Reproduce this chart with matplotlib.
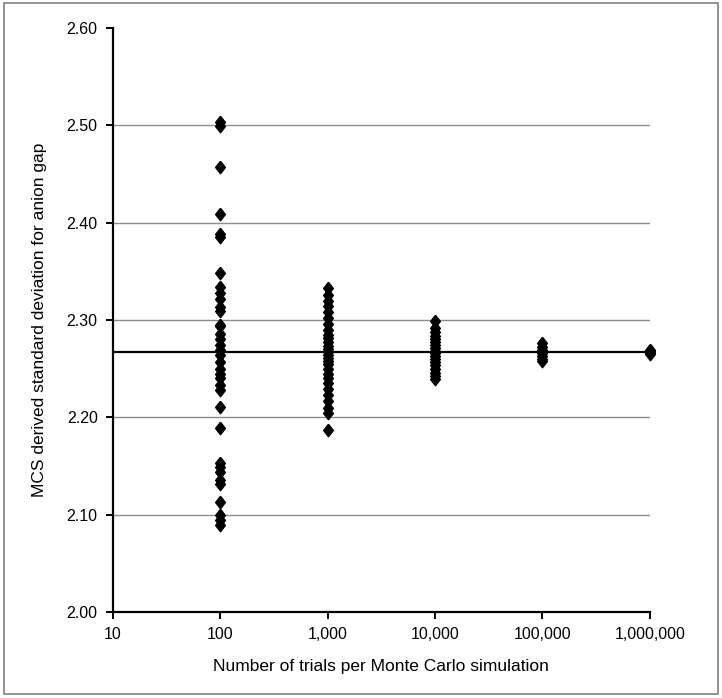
import matplotlib
matplotlib.use("Agg")
import matplotlib.pyplot as plt
from matplotlib.patches import Rectangle
from matplotlib.ticker import FuncFormatter, FixedLocator, NullLocator

plt.rcParams['font.family'] = ['Liberation Sans Narrow', 'Liberation Sans', 'DejaVu Sans']

trials = [100, 1000, 10000, 100000, 1000000]
sd_100 = [2.503, 2.499, 2.457, 2.409, 2.388, 2.385, 2.348, 2.334, 2.328, 2.322,
          2.313, 2.309, 2.295, 2.294, 2.286, 2.280, 2.274, 2.269, 2.264, 2.257,
          2.250, 2.245, 2.240, 2.233, 2.228, 2.211, 2.189, 2.153, 2.149, 2.144,
          2.136, 2.132, 2.113, 2.100, 2.095, 2.089]
sd_1000 = [2.333, 2.326, 2.320, 2.314, 2.308, 2.302, 2.296, 2.290, 2.285, 2.281,
           2.277, 2.273, 2.270, 2.267, 2.264, 2.261, 2.258, 2.255, 2.250, 2.245,
           2.240, 2.235, 2.229, 2.223, 2.217, 2.210, 2.204, 2.187]
sd_10000 = [2.299, 2.292, 2.288, 2.284, 2.280, 2.277, 2.274, 2.271, 2.268, 2.266,
            2.263, 2.260, 2.257, 2.254, 2.250, 2.246, 2.242, 2.239]
sd_100000 = [2.276, 2.272, 2.269, 2.266, 2.263, 2.260, 2.258]
sd_1000000 = [2.269, 2.268, 2.267, 2.266, 2.265]
true_sd = 2.267

series = [sd_100, sd_1000, sd_10000, sd_100000, sd_1000000]

fig = plt.figure(figsize=(7.22, 6.98), dpi=100)
ax = fig.add_axes([0.1565, 0.1232, 0.7435, 0.8367])

for gy in [2.1, 2.2, 2.3, 2.4, 2.5]:
    ax.axhline(gy, color="#8c8c8c", lw=1.0, zorder=1)
ax.axhline(true_sd, color="black", lw=1.6, zorder=2)

# slightly tall diamond like the spreadsheet marker
diamond = [(0, 1.15), (0.9, 0), (0, -1.15), (-0.9, 0), (0, 1.15)]
for n, vals in zip(trials, series):
    ax.plot([n] * len(vals), vals, linestyle="none", marker=diamond, ms=9,
            color="black", zorder=3, clip_on=False)

ax.set_xscale("log")
ax.set_xlim(10, 1000000)
ax.set_ylim(2.0, 2.6)
ax.xaxis.set_major_locator(FixedLocator([10, 100, 1000, 10000, 100000, 1000000]))
ax.xaxis.set_minor_locator(NullLocator())
ax.xaxis.set_major_formatter(FuncFormatter(lambda v, p: f"{int(round(v)):,}"))
ax.set_yticks([2.0, 2.1, 2.2, 2.3, 2.4, 2.5, 2.6])
ax.yaxis.set_major_formatter(FuncFormatter(lambda v, p: f"{v:.2f}"))

ax.spines["top"].set_visible(False)
ax.spines["right"].set_visible(False)
ax.spines["left"].set_linewidth(1.6)
ax.spines["bottom"].set_linewidth(1.6)
ax.tick_params(axis="both", direction="out", length=5, width=1.4, labelsize=11.5, pad=6)

ax.set_xlabel("Number of trials per Monte Carlo simulation", fontsize=12.5, labelpad=12)
ax.set_ylabel("MCS derived standard deviation for anion gap", fontsize=12.5, labelpad=14)

fig.patches.append(Rectangle((0.006, 0.006), 0.988, 0.99, transform=fig.transFigure,
                             fill=False, edgecolor="#808080", lw=1.2))

fig.savefig("out.png", dpi=100)
